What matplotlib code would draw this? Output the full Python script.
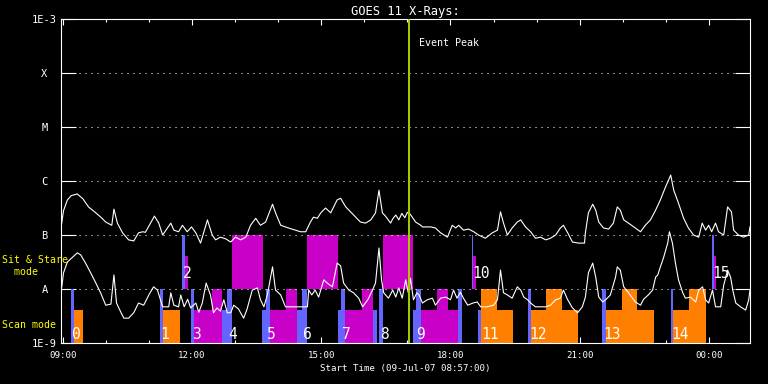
import matplotlib
matplotlib.use("Agg")
import numpy as np
import matplotlib.pyplot as plt
from matplotlib.ticker import NullLocator, FixedLocator

plt.rcParams['font.family'] = ['DejaVu Sans Mono']

# ---------------- data (time = decimal hours of 09-Jul-07, >24 = next day) -------------
# GOES 1-8 A channel (log10 W/m^2)
long_t = [8.97, 9.02, 9.11, 9.20, 9.34, 9.47, 9.60, 9.77, 9.90, 10.00,
          10.14, 10.19, 10.27, 10.39, 10.53, 10.65, 10.76, 10.86, 10.92, 11.13,
          11.23, 11.32, 11.51, 11.58, 11.69, 11.78, 11.89, 11.99, 12.09, 12.20,
          12.27, 12.36, 12.47, 12.55, 12.66, 12.78, 12.90, 13.01, 13.13, 13.25,
          13.36, 13.48, 13.59, 13.71, 13.87, 13.94, 14.06, 14.24, 14.52, 14.64,
          14.75, 14.82, 14.91, 14.99, 15.10, 15.22, 15.37, 15.45, 15.57, 15.68,
          15.80, 15.91, 16.03, 16.15, 16.26, 16.34, 16.42, 16.49, 16.61, 16.66,
          16.73, 16.80, 16.87, 16.94, 17.00, 17.07, 17.19, 17.31, 17.35, 17.54,
          17.65, 17.77, 17.93, 18.04, 18.12, 18.19, 18.30, 18.42, 18.54, 18.65,
          18.81, 18.97, 19.09, 19.16, 19.23, 19.32, 19.43, 19.55, 19.63, 19.74,
          19.86, 19.97, 20.09, 20.21, 20.32, 20.44, 20.55, 20.62, 20.72, 20.83,
          20.97, 21.11, 21.13, 21.20, 21.30, 21.37, 21.44, 21.55, 21.67, 21.78,
          21.87, 21.94, 22.02, 22.13, 22.29, 22.41, 22.52, 22.64, 22.76, 22.87,
          22.99, 23.11, 23.18, 23.29, 23.41, 23.52, 23.64, 23.76, 23.84, 23.92,
          23.99, 24.06, 24.15, 24.22, 24.34, 24.43, 24.52, 24.57, 24.68, 24.80,
          24.92, 24.95]
long_log = [-6.82, -6.55, -6.35, -6.27, -6.24, -6.33, -6.48, -6.59, -6.68, -6.76,
            -6.82, -6.52, -6.78, -6.96, -7.09, -7.11, -6.96, -6.94, -6.95, -6.65,
            -6.78, -7.00, -6.78, -6.91, -6.94, -6.82, -6.94, -6.85, -6.96, -7.15,
            -6.96, -6.72, -7.00, -7.09, -7.04, -7.07, -7.13, -7.04, -7.09, -7.04,
            -6.82, -6.69, -6.82, -6.76, -6.43, -6.59, -6.82, -6.87, -6.94, -6.94,
            -6.76, -6.67, -6.69, -6.59, -6.50, -6.59, -6.35, -6.32, -6.48, -6.57,
            -6.67, -6.76, -6.78, -6.72, -6.59, -6.17, -6.59, -6.65, -6.78, -6.70,
            -6.63, -6.72, -6.60, -6.68, -6.58, -6.62, -6.76, -6.82, -6.85, -6.85,
            -6.87, -6.96, -7.04, -6.82, -6.87, -6.82, -6.91, -6.89, -6.94, -7.00,
            -7.06, -6.96, -6.91, -6.57, -6.78, -7.00, -6.87, -6.76, -6.72, -6.85,
            -6.94, -7.06, -7.04, -7.09, -7.06, -7.00, -6.87, -6.82, -6.96, -7.13,
            -7.15, -7.15, -6.96, -6.59, -6.43, -6.54, -6.76, -6.87, -6.89, -6.78,
            -6.48, -6.54, -6.72, -6.78, -6.87, -6.94, -6.82, -6.72, -6.54, -6.35,
            -6.11, -5.89, -6.17, -6.41, -6.69, -6.87, -7.00, -7.04, -6.78, -6.91,
            -6.82, -6.94, -6.78, -6.94, -7.00, -6.48, -6.57, -6.91, -7.00, -7.04,
            -7.00, -6.85]

# GOES 0.5-4 A channel (log10 W/m^2)
short_t = [8.98, 9.02, 9.11, 9.23, 9.34, 9.42, 9.53, 9.65, 9.77, 9.88,
           10.00, 10.12, 10.19, 10.25, 10.35, 10.42, 10.53, 10.65, 10.76, 10.88,
           11.00, 11.11, 11.20, 11.32, 11.46, 11.51, 11.58, 11.69, 11.74, 11.82,
           11.90, 11.97, 12.09, 12.16, 12.24, 12.33, 12.43, 12.50, 12.58, 12.66,
           12.74, 12.82, 12.90, 12.97, 13.08, 13.20, 13.28, 13.40, 13.52, 13.59,
           13.67, 13.75, 13.87, 13.94, 14.06, 14.17, 14.68, 14.71, 14.78, 14.86,
           14.94, 15.06, 15.14, 15.26, 15.37, 15.45, 15.52, 15.64, 15.75, 15.87,
           15.96, 16.08, 16.19, 16.26, 16.34, 16.40, 16.45, 16.56, 16.66, 16.73,
           16.80, 16.88, 16.96, 17.02, 17.07, 17.14, 17.22, 17.27, 17.35, 17.46,
           17.58, 17.65, 17.77, 17.89, 18.00, 18.07, 18.15, 18.23, 18.30, 18.40,
           18.52, 18.62, 18.70, 18.85, 19.00, 19.09, 19.16, 19.23, 19.32, 19.43,
           19.55, 19.63, 19.70, 19.79, 19.86, 19.97, 20.21, 20.32, 20.44, 20.55,
           20.62, 20.72, 20.83, 20.95, 21.06, 21.13, 21.20, 21.30, 21.37, 21.44,
           21.53, 21.60, 21.71, 21.83, 21.87, 21.94, 22.02, 22.13, 22.29, 22.41,
           22.48, 22.59, 22.69, 22.76, 22.81, 22.87, 22.94, 23.04, 23.08, 23.15,
           23.22, 23.29, 23.39, 23.45, 23.57, 23.69, 23.76, 23.85, 23.92, 23.99,
           24.08, 24.15, 24.27, 24.34, 24.43, 24.50, 24.55, 24.62, 24.73, 24.85,
           24.92, 24.95]
short_log = [-7.96, -7.70, -7.50, -7.41, -7.33, -7.37, -7.52, -7.70, -7.89, -8.07,
             -8.30, -8.28, -7.74, -8.26, -8.43, -8.54, -8.54, -8.44, -8.26, -8.30,
             -8.11, -7.96, -8.02, -8.33, -8.33, -8.07, -8.30, -8.33, -8.11, -8.33,
             -8.19, -8.35, -8.26, -8.43, -8.26, -7.89, -8.11, -8.44, -8.35, -8.41,
             -8.20, -8.44, -8.44, -8.30, -8.37, -8.54, -8.37, -8.02, -7.98, -8.20,
             -8.33, -8.11, -7.59, -8.02, -8.11, -8.33, -8.33, -8.02, -8.11, -8.02,
             -8.15, -7.83, -7.89, -7.96, -7.52, -7.57, -7.89, -8.02, -8.07, -8.17,
             -8.33, -8.20, -8.02, -7.89, -7.24, -7.83, -8.07, -8.17, -8.02, -8.15,
             -7.98, -8.17, -7.83, -8.07, -7.80, -8.20, -8.07, -8.11, -8.26, -8.20,
             -8.17, -8.30, -8.17, -8.15, -8.20, -8.02, -8.17, -8.06, -8.17, -8.30,
             -8.26, -8.24, -8.33, -8.33, -8.30, -8.20, -7.65, -8.07, -8.11, -8.17,
             -7.96, -8.02, -8.15, -8.20, -8.26, -8.33, -8.33, -8.30, -8.20, -8.17,
             -8.02, -8.20, -8.35, -8.44, -8.33, -8.15, -7.70, -7.52, -7.78, -8.15,
             -8.24, -8.20, -8.11, -7.78, -7.59, -7.65, -7.96, -8.07, -8.24, -8.30,
             -8.19, -8.11, -8.02, -7.78, -7.74, -7.59, -7.43, -7.15, -6.94, -7.15,
             -7.52, -7.83, -8.07, -8.17, -8.15, -8.24, -8.02, -7.96, -8.20, -8.26,
             -8.02, -8.33, -8.33, -7.93, -7.65, -7.78, -8.02, -8.26, -8.33, -8.39,
             -8.20, -8.02]

# Observation timeline (start, end in decimal hours)
blue_scan_full = [(9.186, 9.255), (11.251, 11.327), (11.970, 12.056), (12.821, 12.937),
                  (13.710, 13.810), (14.561, 14.677), (15.450, 15.550), (16.339, 16.432),
                  (17.190, 17.306), (18.172, 18.274), (19.796, 19.858), (21.522, 21.599),
                  (23.107, 23.160)]
blue_scan_short = [(12.689, 12.821), (13.633, 13.710), (14.445, 14.561), (15.397, 15.450),
                   (16.200, 16.285), (17.128, 17.190), (18.645, 18.698)]
blue_sitstare = [(11.777, 11.838), (18.490, 18.529), (24.058, 24.121)]
magenta_sitstare_small = [(11.838, 11.900), (18.529, 18.582), (24.112, 24.158)]
magenta_sitstare_big = [(12.921, 13.647), (14.661, 15.387), (16.432, 17.128)]

scan_low_start = [9.255, 11.327, 12.056, 13.810, 15.550, 17.306, 18.698, 19.842, 21.599, 23.160]
scan_low_end = [9.464, 11.715, 12.689, 14.445, 16.200, 18.172, 19.457, 20.965, 22.719, 23.919]
scan_low_color = ['orange', 'orange', 'magenta', 'magenta', 'magenta', 'magenta',
                  'orange', 'orange', 'orange', 'orange']
scan_high_start = [12.457, 14.190, 15.954, 17.694, 18.698, 20.206, 21.970, 23.532]
scan_high_end = [12.705, 14.445, 16.200, 17.949, 19.086, 20.594, 22.334, 23.919]
scan_high_color = ['magenta', 'magenta', 'magenta', 'magenta', 'orange', 'orange', 'orange', 'orange']

obs_number = list(range(16))
obs_label_t = [9.186, 11.251, 11.777, 11.970, 12.821, 13.710, 14.561, 15.450,
               16.339, 17.190, 18.490, 18.698, 19.796, 21.522, 23.107, 24.058]
obs_band = ['scan', 'scan', 'ss', 'scan', 'scan', 'scan', 'scan', 'scan',
            'scan', 'scan', 'ss', 'scan', 'scan', 'scan', 'scan', 'ss']

event_peak_t = 17.03

decades = [1e-9, 1e-8, 1e-7, 1e-6, 1e-5, 1e-4, 1e-3]
decade_labels = ['1E-9', 'A', 'B', 'C', 'M', 'X', '1E-3']
hour_ticks = [9, 12, 15, 18, 21, 24]
hour_labels = ['09:00', '12:00', '15:00', '18:00', '21:00', '00:00']

# ---------------- style -------------
COL = {'orange': '#ff8000', 'magenta': '#c800c8'}
BLUE = '#6464ff'
EVENT = '#a4d000'
YELLOW = '#ffff00'

# band boundaries (log scale layout)
SCAN_LO, SCAN_MID, SCAN_HI = 1e-9, 10 ** -8.39, 1e-8
SS_LO, SS_MID, SS_HI = 1e-8, 10 ** -7.39, 1e-7

W, H = 768, 384
fig = plt.figure(figsize=(W / 100, H / 100), dpi=100, facecolor='black')
ax = fig.add_axes([60.5 / W, 41 / H, 689.5 / W, 324 / H])
ax.set_facecolor('black')
ax.set_yscale('log')
ax.set_xlim(8.95, 24.95)
ax.set_ylim(1e-9, 1e-3)


def draw_spans(spans, lo, hi, color, z=2):
    s = np.array([a for a, b in spans])
    e = np.array([b for a, b in spans])
    ax.bar(s, hi - lo, width=e - s, bottom=lo, align='edge', color=color, linewidth=0, zorder=z)


draw_spans(magenta_sitstare_big, SS_LO, SS_HI, COL['magenta'])
draw_spans(blue_sitstare, SS_LO, SS_HI, BLUE)
draw_spans(magenta_sitstare_small, SS_LO, SS_MID, COL['magenta'], z=3)

for s, e, c in zip(scan_low_start, scan_low_end, scan_low_color):
    ax.bar(s, SCAN_MID - SCAN_LO, width=e - s, bottom=SCAN_LO, align='edge',
           color=COL[c], linewidth=0, zorder=2)
for s, e, c in zip(scan_high_start, scan_high_end, scan_high_color):
    ax.bar(s, SCAN_HI - SCAN_MID, width=e - s, bottom=SCAN_MID, align='edge',
           color=COL[c], linewidth=0, zorder=2)
draw_spans(blue_scan_full, SCAN_LO, SCAN_HI, BLUE)
draw_spans(blue_scan_short, SCAN_LO, SCAN_MID, BLUE)

# dotted decade grid
for lv in decades[1:-1]:
    ax.axhline(lv, color='white', lw=0.75, linestyle=(0, (1, 4.76)), zorder=4)

# GOES curves
ax.plot(long_t, 10 ** np.array(long_log), color='white', lw=0.8, zorder=5)
ax.plot(short_t, 10 ** np.array(short_log), color='white', lw=0.8, zorder=5)

# Event peak
ax.axvline(event_peak_t, color=EVENT, lw=1.4, zorder=6)
ax.annotate('Event Peak', xy=(event_peak_t, 0.926), xycoords=('data', 'axes fraction'),
            xytext=(7.5, 0), textcoords='offset points', ha='left', va='center',
            color='white', fontsize=7.2)

# observation numbers
for n, t, b in zip(obs_number, obs_label_t, obs_band):
    y = 10 ** -8.93 if b == 'scan' else 10 ** -7.80
    ax.annotate(str(n), xy=(t, y), xycoords='data', xytext=(0.7, 0),
                textcoords='offset points', ha='left', va='baseline',
                color='white', fontsize=10.5, zorder=7)

# axes styling
for sp in ax.spines.values():
    sp.set_color('white')
    sp.set_linewidth(0.8)

ax.yaxis.set_major_locator(FixedLocator(decades))
ax.set_yticklabels(decade_labels)
ax.yaxis.set_minor_locator(NullLocator())
ax.tick_params(axis='y', which='major', direction='in', length=10.8, width=0.8,
               colors='white', left=True, right=True, labelsize=7.5, pad=11.5)
for lab in ax.get_yticklabels():
    lab.set_horizontalalignment('center')

ax.set_xticks(hour_ticks)
ax.set_xticklabels(hour_labels)
ax.xaxis.set_minor_locator(FixedLocator(list(range(9, 25))))
ax.tick_params(axis='x', which='major', direction='in', length=4.3, width=0.8,
               colors='white', top=True, bottom=True, labelsize=6.6, pad=6.0)
ax.tick_params(axis='x', which='minor', direction='in', length=2.2, width=0.8,
               colors='white', top=True, bottom=True)

ax.set_title('GOES 11 X-Rays:', color='white', fontsize=8.7, pad=3)
ax.set_xlabel('Start Time (09-Jul-07 08:57:00)', color='white', fontsize=6.6, labelpad=2.5)

fig.text(2 / W, 1 - 263 / H, 'Sit & Stare', color=YELLOW, fontsize=7.1, ha='left', va='baseline')
fig.text(2 / W, 1 - 275 / H, '  mode', color=YELLOW, fontsize=7.1, ha='left', va='baseline')
fig.text(2 / W, 1 - 328 / H, 'Scan mode', color=YELLOW, fontsize=7.1, ha='left', va='baseline')

fig.savefig('out.png', dpi=100, facecolor='black')
